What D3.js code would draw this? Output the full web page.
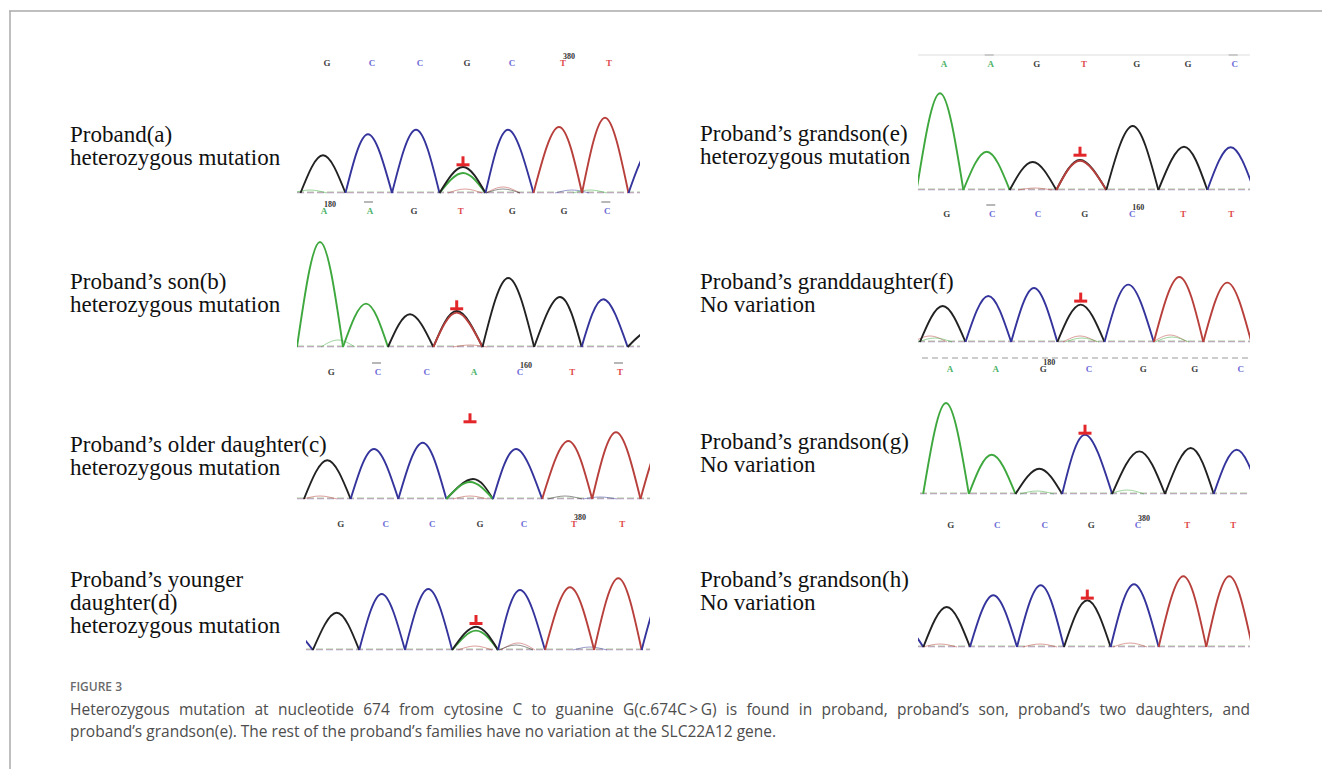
<!DOCTYPE html>
<html>
<head>
<meta charset="utf-8">
<script src="https://cdn.jsdelivr.net/npm/d3@7"></script>
<style>
  body { margin: 0; background: #fff; }
</style>
</head>
<body>
<div id="chart"></div>
<script>
const W = 1322, H = 769

// ---- data : peak position (scan units), base call, peak height ----
// (a) proband
const posA = [33, 78, 126, 173, 218, 269, 315, 362]
const baseA = ["G", "C", "C", "G", "C", "T", "T", "C"]
const hA = [37.7, 58.7, 63.3, 26, 63.3, 66, 75.3, 45]
const hetA = [[3, "A", 20, 0]]
const minorA = [[20, "A", 3], [175, "T", 4], [213, "T", 6], [213, "G", 4], [282, "C", 3], [300, "A", 3]]
// (b) son
const posB = [30, 76, 120, 166.7, 218.3, 270, 313.3, 362]
const baseB = ["A", "A", "G", "T", "G", "G", "C", "G"]
const hB = [105, 43.4, 32.7, 34.4, 69, 50, 47.7, 17]
const hetB = [[3, "G", 36, 0]]
const minorB = [[48, "A", 7], [180, "T", 2]]
// (c) older daughter
const posC = [37.3, 84, 132.7, 180, 226, 278.3, 326, 375]
const baseC = ["G", "C", "C", "A", "C", "T", "T", "T"]
const hC = [38.7, 50, 56.3, 17, 50, 58, 66.7, 60]
const hetC = [[3, "G", 20, 3]]
const minorC = [[30, "T", 3], [180, "T", 3], [275, "G", 3], [310, "C", 2]]
// (d) younger daughter
const posD = [-1, 46.7, 91.7, 138.3, 186, 230, 280, 328.3, 375]
const baseD = ["C", "G", "C", "C", "G", "C", "T", "T", "C"]
const hD = [21, 37.3, 56, 61, 23.3, 60, 62.7, 71.7, 60]
const hetD = [[4, "A", 19.3, 0]]
const minorD = [[185, "T", 4], [228, "T", 7], [226, "G", 5], [300, "C", 3]]
// (e) grandson
const posE = [30, 76.7, 122.7, 170, 222.7, 274, 320.7]
const baseE = ["A", "A", "G", "T", "G", "G", "C"]
const hE = [96.7, 38.3, 28, 29.3, 64, 43.3, 42.7]
const hetE = [[3, "G", 30, 0]]
const minorE = [[125, "T", 2]]
// (f) granddaughter
const posF = [32.7, 78.3, 124, 170.7, 218.3, 269.3, 317.3]
const baseF = ["G", "C", "C", "G", "C", "T", "T"]
const hF = [36, 46, 54, 37.4, 57.4, 65, 59.4]
const hetF = []
const minorF = [[20, "T", 6], [25, "A", 4], [170, "T", 6], [172, "A", 4], [260, "T", 7], [262, "A", 5]]
// (g) grandson
const posG = [36, 81.7, 129.3, 175, 229.3, 280.7, 326.7]
const baseG = ["A", "A", "G", "C", "G", "G", "C"]
const hG = [91, 39.3, 25.3, 59.3, 42.6, 46, 44.3]
const hetG = []
const minorG = [[127, "A", 3], [217, "A", 4]]
// (h) grandson
const posH = [-10, 36.7, 83.3, 130.7, 177.3, 224, 273.3, 319.3]
const baseH = ["C", "G", "C", "C", "G", "C", "T", "T"]
const hH = [24, 40, 51.7, 61.7, 46.7, 62.7, 70.7, 70.7]
const hetH = []
const minorH = [[30, "T", 3], [130, "T", 3], [220, "T", 4]]

// arrow: [peak index, height of arrow tip]
const arrowA = [3, 26.7], arrowB = [3, 36.7], arrowC = [3, 75.7], arrowD = [4, 25]
const arrowE = [3, 33.3], arrowF = [3, 39.4], arrowG = [3, 59.3], arrowH = [4, 47.4]
// scan number labels : [peak index, text]
const numA = [5, "380"], numB = [0, "180"], numC = [4, "160"], numD = [6, "380"]
const numE = null, numF = [4, "160"], numG = [2, "180"], numH = [5, "380"]

const labelsA = ["Proband(a)", "heterozygous mutation"]
const labelsB = ["Proband\u2019s son(b)", "heterozygous mutation"]
const labelsC = ["Proband\u2019s older daughter(c)", "heterozygous mutation"]
const labelsD = ["Proband\u2019s younger", "daughter(d)", "heterozygous mutation"]
const labelsE = ["Proband\u2019s grandson(e)", "heterozygous mutation"]
const labelsF = ["Proband\u2019s granddaughter(f)", "No variation"]
const labelsG = ["Proband\u2019s grandson(g)", "No variation"]
const labelsH = ["Proband\u2019s grandson(h)", "No variation"]

const captionLines = [
  "Heterozygous mutation at nucleotide 674 from cytosine C to guanine G(c.674C\u2009>\u2009G) is found in proband, proband\u2019s son, proband\u2019s two daughters, and",
  "proband\u2019s grandson(e). The rest of the proband\u2019s families have no variation at the SLC22A12 gene."
]

const traceColor = { G: "#222222", C: "#34349c", T: "#b8403c", A: "#3ea83e" }
const letterColor = { G: "#444444", C: "#6a6ad6", T: "#e04a4a", A: "#4db36a" }

const panels = [
  { id: "a", pos: posA, base: baseA, h: hA, het: hetA, minor: minorA, arrow: arrowA, num: numA, dash: [],
    ox: 290, by: 193, ly: 66, x0: 297, x1: 640, lab: labelsA, tx: 70, ty: 142 },
  { id: "b", pos: posB, base: baseB, h: hB, het: hetB, minor: minorB, arrow: arrowB, num: numB, dash: [1, 6],
    ox: 290, by: 347, ly: 214, x0: 297, x1: 640, lab: labelsB, tx: 70, ty: 289 },
  { id: "c", pos: posC, base: baseC, h: hC, het: hetC, minor: minorC, arrow: arrowC, num: numC, dash: [1, 6],
    ox: 290, by: 499, ly: 375, x0: 297, x1: 650, lab: labelsC, tx: 70, ty: 452 },
  { id: "d", pos: posD, base: baseD, h: hD, het: hetD, minor: minorD, arrow: arrowD, num: numD, dash: [],
    ox: 290, by: 650, ly: 527, x0: 306, x1: 650, lab: labelsD, tx: 70, ty: 587 },
  { id: "e", pos: posE, base: baseE, h: hE, het: hetE, minor: minorE, arrow: arrowE, num: numE, dash: [1, 6],
    ox: 910, by: 190, ly: 67, x0: 918, x1: 1250, lab: labelsE, tx: 700, ty: 141 },
  { id: "f", pos: posF, base: baseF, h: hF, het: hetF, minor: minorF, arrow: arrowF, num: numF, dash: [1],
    ox: 910, by: 342, ly: 217, x0: 918, x1: 1250, lab: labelsF, tx: 700, ty: 289 },
  { id: "g", pos: posG, base: baseG, h: hG, het: hetG, minor: minorG, arrow: arrowG, num: numG, dash: [],
    ox: 910, by: 494, ly: 372, x0: 920, x1: 1250, lab: labelsG, tx: 700, ty: 449 },
  { id: "h", pos: posH, base: baseH, h: hH, het: hetH, minor: minorH, arrow: arrowH, num: numH, dash: [],
    ox: 910, by: 647, ly: 528, x0: 918, x1: 1250, lab: labelsH, tx: 700, ty: 587 }
]

const svg = d3.select("#chart").append("svg")
    .attr("width", W)
    .attr("height", H)
    .style("font-family", "'Liberation Serif', 'Times New Roman', serif")

// frame of the figure
svg.append("line").attr("x1", 9).attr("x2", W).attr("y1", 11).attr("y2", 11)
    .attr("stroke", "#aaa").attr("stroke-width", 1.5)
svg.append("line").attr("x1", 10).attr("x2", 10).attr("y1", 11).attr("y2", H)
    .attr("stroke", "#aaa").attr("stroke-width", 1.5)

const peakLine = d3.line().curve(d3.curveNatural)

panels.forEach(p => {
  const x = d3.scaleLinear().domain([0, 400]).range([p.ox, p.ox + 400])
  const y = d3.scaleLinear().domain([0, 100]).range([p.by, p.by - 100])
  const g = svg.append("g").attr("class", "panel-" + p.id)

  g.append("clipPath").attr("id", "clip-" + p.id)
    .append("rect")
    .attr("x", p.x0).attr("y", p.by - 130)
    .attr("width", p.x1 - p.x0).attr("height", 135)

  // valleys = midpoints between peaks
  const n = p.pos.length
  const vl = p.pos.map((d, i) => i > 0 ? (d + p.pos[i - 1]) / 2 : d - (p.pos[1] - p.pos[0]) / 2)
  const vr = p.pos.map((d, i) => i < n - 1 ? (d + p.pos[i + 1]) / 2 : d + (d - p.pos[i - 1]) / 2)

  const traces = g.append("g").attr("clip-path", "url(#clip-" + p.id + ")")

  // faint baseline noise of the other dyes
  const bl = [["A", 1.2], ["T", 0.6], ["C", 0.1]]
  traces.selectAll("line.bl").data(bl).enter().append("line")
    .attr("class", "bl")
    .attr("x1", p.x0).attr("x2", p.x1)
    .attr("y1", d => y(d[1])).attr("y2", d => y(d[1]))
    .attr("stroke", d => traceColor[d[0]])
    .attr("stroke-opacity", 0.3)
    .attr("stroke-dasharray", "7,3")
    .attr("stroke-width", 1)

  // small secondary peaks
  traces.selectAll("path.minor").data(p.minor).enter().append("path")
    .attr("class", "minor")
    .attr("d", d => peakLine([[x(d[0] - 17), y(0)], [x(d[0]), y(d[2])], [x(d[0] + 17), y(0)]]))
    .attr("fill", "none")
    .attr("stroke", d => traceColor[d[1]])
    .attr("stroke-opacity", 0.5)
    .attr("stroke-width", 1)

  // heterozygous second peak
  traces.selectAll("path.het").data(p.het).enter().append("path")
    .attr("class", "het")
    .attr("d", d => peakLine([[x(vl[d[0]]), y(0)], [x(p.pos[d[0]] + d[3]), y(d[2])], [x(vr[d[0]]), y(0)]]))
    .attr("fill", "none")
    .attr("stroke", d => traceColor[d[1]])
    .attr("stroke-width", 1.8)

  // main peaks
  traces.selectAll("path.peak").data(p.pos).enter().append("path")
    .attr("class", "peak")
    .attr("d", (d, i) => peakLine([[x(vl[i]), y(0)], [x(d), y(p.h[i])], [x(vr[i]), y(0)]]))
    .attr("fill", "none")
    .attr("stroke", (d, i) => traceColor[p.base[i]])
    .attr("stroke-width", 1.9)

  // base calls row
  const shown = p.pos.map((d, i) => i).filter(i => x(p.pos[i]) > p.x0 && x(p.pos[i]) < p.x1)
  g.selectAll("text.call").data(shown).enter().append("text")
    .attr("class", "call")
    .attr("x", i => x(p.pos[i]) + 4)
    .attr("y", p.ly)
    .attr("text-anchor", "middle")
    .attr("font-size", 9)
    .attr("font-weight", "bold")
    .attr("fill", i => letterColor[p.base[i]])
    .text(i => p.base[i])

  if (p.num) {
    g.append("text")
      .attr("x", x(p.pos[p.num[0]]) + 4)
      .attr("y", p.ly - 7)
      .attr("font-size", 8)
      .attr("font-weight", "bold")
      .attr("fill", "#333")
      .text(p.num[1])
  }

  g.selectAll("line.dash").data(p.dash).enter().append("line")
    .attr("class", "dash")
    .attr("x1", i => x(p.pos[i]) - 2).attr("x2", i => x(p.pos[i]) + 7)
    .attr("y1", p.ly - 12).attr("y2", p.ly - 12)
    .attr("stroke", "#888").attr("stroke-width", 1.2)

  // red arrow marking c.674
  const ax = x(p.pos[p.arrow[0]]), ay = y(p.arrow[1])
  g.append("rect").attr("x", ax - 6.5).attr("y", ay - 3).attr("width", 13).attr("height", 3).attr("fill", "#e3262a")
  g.append("rect").attr("x", ax - 1.5).attr("y", ay - 10).attr("width", 3).attr("height", 8).attr("fill", "#e3262a")

  // sample label
  g.selectAll("text.lab").data(p.lab).enter().append("text")
    .attr("class", "lab")
    .attr("x", p.tx)
    .attr("y", (d, i) => p.ty + i * 22.8)
    .attr("font-size", 23)
    .attr("fill", "#111")
    .text(d => d)
})

// dashed separator above panel (g) and faint line above (e)
svg.append("line").attr("x1", 922).attr("x2", 1250).attr("y1", 358).attr("y2", 358)
    .attr("stroke", "#999").attr("stroke-dasharray", "6,4").attr("stroke-width", 1)
svg.append("line").attr("x1", 918).attr("x2", 1250).attr("y1", 55).attr("y2", 55)
    .attr("stroke", "#ddd").attr("stroke-width", 1)

// caption
const cap = svg.append("g").style("font-family", "'Open Sans', 'Noto Sans', sans-serif")
cap.append("text")
    .attr("x", 70).attr("y", 691)
    .attr("font-size", 12)
    .attr("font-weight", 600)
    .attr("fill", "#6b6b6b")
    .text("FIGURE 3")
const capText = cap.selectAll("text.cap").data(captionLines).enter().append("text")
    .attr("class", "cap")
    .attr("x", 70)
    .attr("y", (d, i) => 715 + i * 22)
    .attr("font-size", 15.5)
    .attr("fill", "#4d4d4d")
    .text(d => d)
// first line is justified to the full column width
const first = capText.filter((d, i) => i === 0)
const len = first.node().getComputedTextLength()
const spaces = captionLines[0].split(" ").length - 1
first.attr("word-spacing", Math.max(0, (1180 - len) / spaces))
</script>
</body>
</html>
